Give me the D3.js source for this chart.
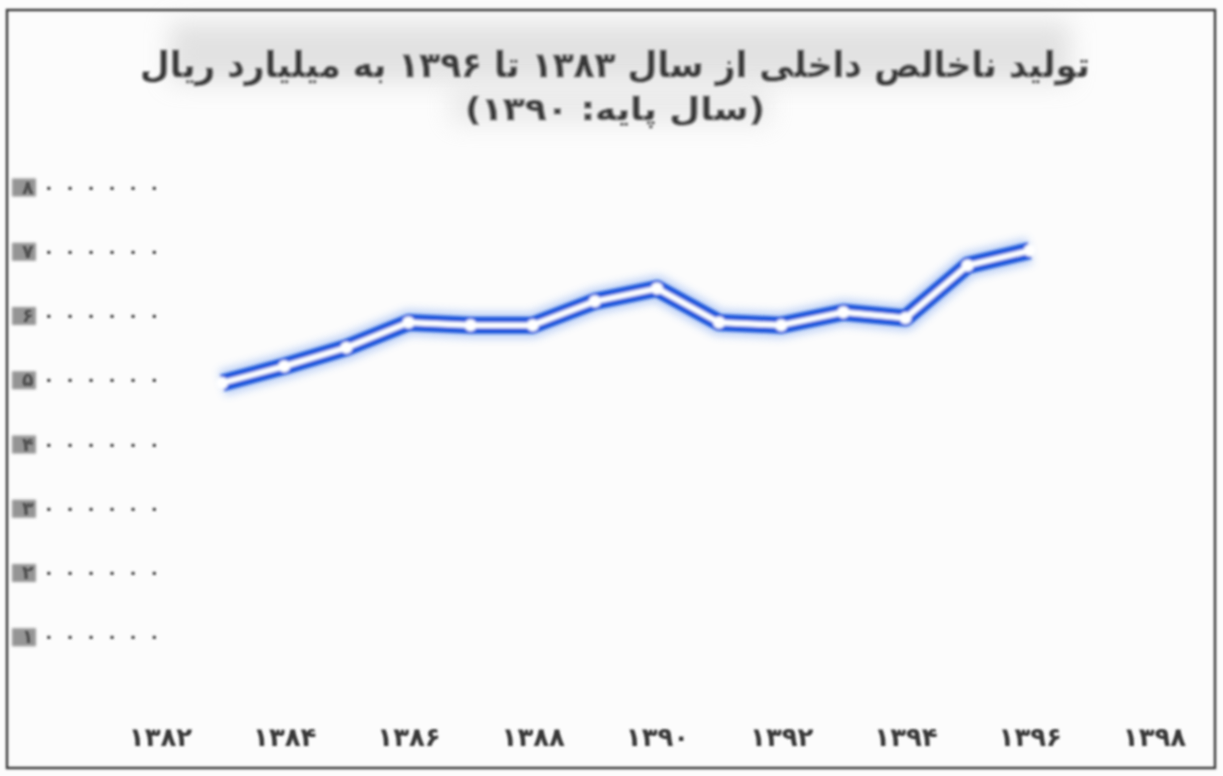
<!DOCTYPE html>
<html lang="fa">
<head>
<meta charset="utf-8">
<script src="https://cdn.jsdelivr.net/npm/d3@7"></script>
<style>
  html, body { margin: 0; padding: 0; background: #ffffff; }
  svg { display: block; }
</style>
</head>
<body>
<svg id="chart" width="1223" height="776"></svg>
<script>
// GDP at constant 1390 prices, billion rials
const years = [1383, 1384, 1385, 1386, 1387, 1388, 1389, 1390, 1391, 1392, 1393, 1394, 1395, 1396];
const gdp = [4950000, 5210000, 5500000, 5890000, 5850000, 5850000, 6220000, 6420000, 5890000, 5850000, 6050000, 5960000, 6780000, 7010000];
const yTicks = [1000000, 2000000, 3000000, 4000000, 5000000, 6000000, 7000000, 8000000];
const xTicks = [1382, 1384, 1386, 1388, 1390, 1392, 1394, 1396, 1398];
const titleLines = ["تولید ناخالص داخلی از سال ۱۳۸۳ تا ۱۳۹۶ به میلیارد ریال", "(سال پایه: ۱۳۹۰)"];

const faDigits = "۰۱۲۳۴۵۶۷۸۹";
const toFa = v => String(v).replace(/[0-9]/g, d => faDigits[+d]);

const svg = d3.select("#chart");
const W = 1223, H = 776;

const defs = svg.append("defs");
defs.append("filter").attr("id", "soft").attr("x", "-10%").attr("y", "-50%").attr("width", "120%").attr("height", "200%")
  .append("feGaussianBlur").attr("stdDeviation", 1.8);
defs.append("filter").attr("id", "glow").attr("x", "-10%").attr("y", "-50%").attr("width", "120%").attr("height", "200%")
  .append("feGaussianBlur").attr("stdDeviation", 4);
defs.append("filter").attr("id", "haze").attr("x", "-30%").attr("y", "-80%").attr("width", "160%").attr("height", "260%")
  .append("feGaussianBlur").attr("stdDeviation", 12);
defs.append("filter").attr("id", "textsoft")
  .append("feGaussianBlur").attr("stdDeviation", 0.8);

// paper background
svg.append("rect").attr("width", W).attr("height", H).attr("fill", "#fcfcfc");

// grey band behind the title
svg.append("rect").attr("x", 170).attr("y", 22).attr("width", 900).attr("height", 60)
  .attr("fill", "#c8c8c8").attr("opacity", 0.5).attr("filter", "url(#haze)");
svg.append("rect").attr("x", 450).attr("y", 88).attr("width", 320).attr("height", 36)
  .attr("fill", "#d0d0d0").attr("opacity", 0.4).attr("filter", "url(#haze)");

// frame
svg.append("rect").attr("x", 7).attr("y", 10).attr("width", 1208).attr("height", 758)
  .attr("fill", "none").attr("stroke", "#3c3c3c").attr("stroke-width", 2.5).attr("filter", "url(#textsoft)");

const x = d3.scaleLinear().domain([1382, 1398]).range([160, 1154]);
const y = d3.scaleLinear().domain([0, 8000000]).range([701, 187]);

// title
const title = svg.append("g").attr("filter", "url(#textsoft)");
title.selectAll("text").data(titleLines).join("text")
  .attr("x", 615).attr("y", (d, i) => 77 + i * 43)
  .attr("text-anchor", "middle").attr("direction", "rtl")
  .attr("font-family", "DejaVu Sans, sans-serif").attr("font-weight", "bold")
  .attr("font-size", (d, i) => i === 0 ? 35 : 32)
  .attr("textLength", (d, i) => i === 0 ? 950 : 300).attr("lengthAdjust", "spacingAndGlyphs")
  .attr("fill", "#383838").attr("stroke", "#9a9a9a").attr("stroke-width", 1.2)
  .text(d => d);

// y axis labels, widely spaced digits
const yAxis = svg.append("g").attr("transform", "translate(22,0)")
  .call(d3.axisRight(y).tickValues(yTicks).tickSize(0).tickFormat(d => toFa(d)));
yAxis.select(".domain").remove();
yAxis.selectAll(".tick").insert("rect", "text").attr("x", -10).attr("y", -9).attr("width", 24).attr("height", 18)
  .attr("fill", "#6a6a6a").attr("opacity", 0.7).attr("filter", "url(#soft)");
yAxis.selectAll("text").attr("x", 0)
  .attr("font-family", "DejaVu Sans, sans-serif").attr("font-weight", "bold").attr("font-size", 19)
  .attr("textLength", 138).attr("lengthAdjust", "spacing")
  .attr("fill", "#505050").attr("filter", "url(#textsoft)");

// x axis labels
const xAxis = svg.append("g").attr("transform", "translate(0,737)")
  .call(d3.axisBottom(x).tickValues(xTicks).tickSize(0).tickFormat(d => toFa(d)));
xAxis.select(".domain").remove();
xAxis.selectAll("text").attr("y", 0).attr("dy", "0.35em")
  .attr("font-family", "DejaVu Sans, sans-serif").attr("font-weight", "bold").attr("font-size", 26)
  .attr("fill", "#383838").attr("filter", "url(#textsoft)");

// GDP line: blue outer glow and band, white core, white point markers
const line = d3.line().x((d, i) => x(years[i])).y(d => y(d));
svg.append("path").datum(gdp).attr("d", line).attr("fill", "none")
  .attr("stroke", "#6f9cf0").attr("stroke-width", 26).attr("stroke-linejoin", "round")
  .attr("opacity", 0.45).attr("filter", "url(#glow)");
const lg = svg.append("g").attr("filter", "url(#soft)");
lg.append("path").datum(gdp).attr("d", line).attr("fill", "none")
  .attr("stroke", "#1c57dc").attr("stroke-width", 17).attr("stroke-linejoin", "round");
lg.append("path").datum(gdp).attr("d", line).attr("fill", "none")
  .attr("stroke", "#ffffff").attr("stroke-width", 5.5).attr("stroke-linejoin", "round");
lg.selectAll("circle").data(gdp).join("circle")
  .attr("cx", (d, i) => x(years[i])).attr("cy", d => y(d)).attr("r", 6)
  .attr("fill", "#ffffff");
</script>
</body>
</html>
